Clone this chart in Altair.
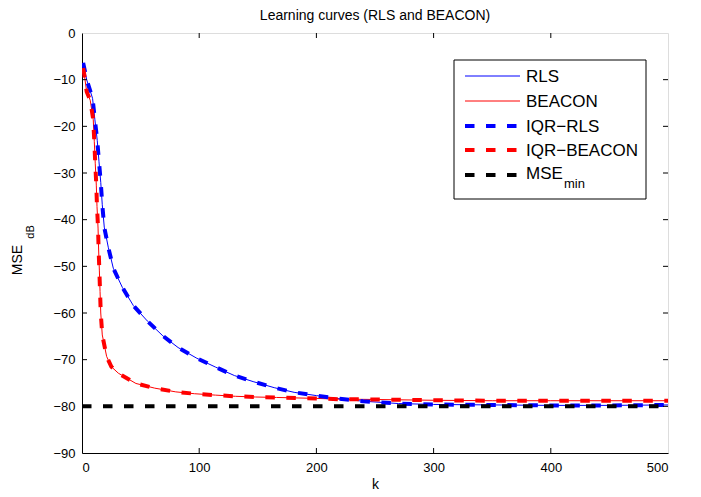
import altair as alt
import pandas as pd

# ---- data ----
rls_k = [1, 4, 9, 11, 13, 14.5, 16, 17.3, 19, 22.4, 26.7, 34.4, 43.8, 55.7, 69, 82, 98,
         114, 130, 146, 164, 181, 200, 217, 240, 270, 300, 350, 400, 450, 500]
rls_mse = [-6.4, -10, -14, -18.6, -23, -27.6, -32, -36.8, -41.6, -45.9, -50.4, -54.5, -58.4,
           -61.7, -64.9, -67.4, -69.7, -71.6, -73.4, -74.7, -76.0, -77.0, -77.7, -78.3, -78.9,
           -79.4, -79.6, -79.7, -79.8, -79.8, -79.7]

beacon_k = [1, 2, 4, 7, 9.6, 10.5, 11.3, 12.2, 12.8, 13.7, 14.2, 14.8, 15.4, 16, 17.3, 21,
            25, 31, 46, 62, 80, 96, 114, 131, 148, 166, 200, 223, 240, 300, 350, 400, 450, 500]
beacon_mse = [-7.5, -9, -12.6, -14.4, -18.6, -23.3, -27.9, -32.6, -37.2, -41.8, -46.5, -50.8,
              -55.4, -60, -64.7, -69.3, -71.5, -72.9, -75.1, -76.1, -76.9, -77.3, -77.6, -77.85,
              -78.0, -78.1, -78.3, -78.5, -78.5, -78.7, -78.8, -78.8, -78.8, -78.8]

iqr_rls_k = rls_k
iqr_rls_mse = rls_mse
iqr_beacon_k = beacon_k
iqr_beacon_mse = beacon_mse

mse_min_k = [0, 500]
mse_min = [-80, -80]

x_ticks = [100, 200, 300, 400]
y_ticks = [-80, -70, -60, -50, -40, -30, -20, -10]

legend_labels = ["RLS", "BEACON", "IQR\u2212RLS", "IQR\u2212BEACON", "MSE"]

FONT = "Liberation Sans"
W, H = 586, 420

xs = alt.Scale(domain=[0, 500], nice=False)
ys = alt.Scale(domain=[-90, 0], nice=False)


def series(k, v):
    return pd.DataFrame({"k": k, "mse": v})


def line(df, color, width, dash=None):
    kw = dict(color=color, strokeWidth=width, clip=True)
    if dash:
        kw["strokeDash"] = dash
    return alt.Chart(df).mark_line(**kw).encode(
        x=alt.X("k:Q", scale=xs,
                axis=alt.Axis(values=[0, 100, 200, 300, 400, 500], title="k", ticks=False,
                              grid=False, labelFont=FONT, labelFontSize=13, labelPadding=8,
                              labelColor="black", titleFont=FONT, titleFontSize=14,
                              titleFontWeight="normal", titlePadding=3, titleColor="black",
                              domainColor="black")),
        y=alt.Y("mse:Q", scale=ys,
                axis=alt.Axis(values=[-90, -80, -70, -60, -50, -40, -30, -20, -10, 0],
                              title=None, ticks=False, grid=False, labelFont=FONT,
                              labelFontSize=13, labelPadding=7, labelColor="black",
                              domainColor="black")),
    )


DASH = [9.5, 11.5]
layers = [
    line(series(rls_k, rls_mse), "#0000FF", 1),
    line(series(beacon_k, beacon_mse), "#FF0000", 1),
    line(series(iqr_rls_k, iqr_rls_mse), "#0000FF", 4, DASH),
    line(series(iqr_beacon_k, iqr_beacon_mse), "#FF0000", 4, DASH),
    line(series(mse_min_k, mse_min), "#000000", 4, DASH),
]

# inside ticks (MATLAB style)
xt = pd.DataFrame({"k": x_ticks})
yt = pd.DataFrame({"mse": y_ticks})
tick = dict(color="black", strokeWidth=1)
layers += [
    alt.Chart(xt).mark_rule(**tick).encode(x=alt.X("k:Q", scale=xs), y=alt.value(H), y2=alt.value(H - 5)),
    alt.Chart(xt).mark_rule(**tick).encode(x=alt.X("k:Q", scale=xs), y=alt.value(0), y2=alt.value(5)),
    alt.Chart(yt).mark_rule(**tick).encode(y=alt.Y("mse:Q", scale=ys), x=alt.value(0), x2=alt.value(5)),
    alt.Chart(yt).mark_rule(**tick).encode(y=alt.Y("mse:Q", scale=ys), x=alt.value(W), x2=alt.value(W - 5)),
]

one = pd.DataFrame({"a": [0]})

# legend box
layers.append(
    alt.Chart(one).mark_rect(fill="white", stroke="black", strokeWidth=1).encode(
        x=alt.value(372), x2=alt.value(564), y=alt.value(27), y2=alt.value(166))
)
line_rows = [43, 68, 93, 117, 142]
text_rows = [44, 69, 93.5, 118, 141]
styles = [("#0000FF", 1, None), ("#FF0000", 1, None), ("#0000FF", 4, DASH),
          ("#FF0000", 4, DASH), ("#000000", 4, DASH)]
for lab, r, tr, (c, w, d) in zip(legend_labels, line_rows, text_rows, styles):
    kw = dict(color=c, strokeWidth=w)
    if d:
        kw["strokeDash"] = d
    layers.append(alt.Chart(one).mark_rule(**kw).encode(
        x=alt.value(383), x2=alt.value(438), y=alt.value(r)))
    layers.append(alt.Chart(one).mark_text(align="left", baseline="middle", font=FONT,
                                           fontSize=17, color="black").encode(
        x=alt.value(444), y=alt.value(tr), text=alt.value(lab)))
layers.append(alt.Chart(one).mark_text(align="left", baseline="middle", font=FONT,
                                       fontSize=13, color="black").encode(
    x=alt.value(482), y=alt.value(151), text=alt.value("min")))

# y axis title with subscript
layers.append(alt.Chart(one).mark_text(angle=270, align="center", baseline="middle", font=FONT,
                                       fontSize=14, color="black").encode(
    x=alt.value(-64), y=alt.value(227), text=alt.value("MSE")))
layers.append(alt.Chart(one).mark_text(angle=270, align="center", baseline="middle", font=FONT,
                                       fontSize=11, color="black").encode(
    x=alt.value(-51), y=alt.value(199), text=alt.value("dB")))

chart = alt.layer(*layers).properties(
    width=W, height=H,
    title=alt.TitleParams("Learning curves (RLS and BEACON)", font=FONT, fontSize=14,
                          fontWeight="normal", color="black", offset=4, anchor="middle"),
    autosize=alt.AutoSizeParams(type="none"),
    padding={"left": 74, "top": 25, "right": 25, "bottom": 44},
).configure_view(stroke="black", strokeWidth=1).configure(background="white")

chart.save("out.html", embed_options={"renderer": "svg", "actions": False})
